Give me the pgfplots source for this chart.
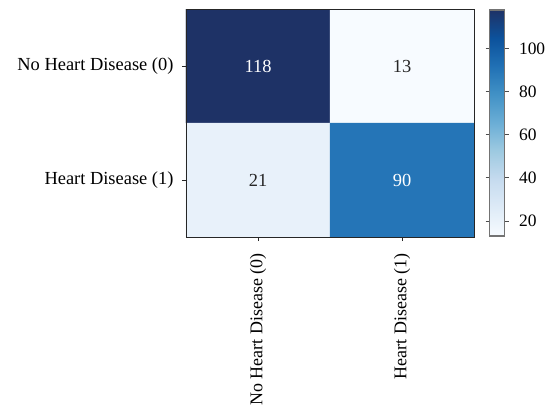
\documentclass[border=0pt]{standalone}
\usepackage{pgfplots}
\pgfplotsset{compat=1.18}
\usepackage{fontspec}
\setmainfont{Liberation Serif}

% Blues sequential colormap
\pgfplotsset{
  colormap={blues}{
    rgb255=(247,251,255) rgb255=(222,235,247) rgb255=(198,219,239)
    rgb255=(158,202,225) rgb255=(107,174,214) rgb255=(66,146,198)
    rgb255=(33,113,181) rgb255=(12,82,156) rgb255=(30,50,102)
  }
}

\pgfplotstableread{
x y C
0 0 118
1 0 13
0 1 21
1 1 90
}\cmdata

\begin{document}
\begin{tikzpicture}[x=1bp,y=1bp]
\useasboundingbox (-186,-170) rectangle (359,237);
\begin{axis}[
  at={(0,0)}, anchor=south west,
  scale only axis, width=288bp, height=228bp,
  xmin=-0.5, xmax=1.5, ymin=-0.5, ymax=1.5,
  y dir=reverse,
  axis on top,
  xtick={0,1}, ytick={0,1},
  xticklabels={No Heart Disease (0), Heart Disease (1)},
  yticklabels={No Heart Disease (0), Heart Disease (1)},
  x tick label style={rotate=90, anchor=east, font=\fontsize{18}{21}\selectfont},
  xticklabel shift=9bp, yticklabel shift=5bp,
  tick align=outside, xtick pos=bottom, ytick pos=left,
  major tick length=4bp,
  tick style={black!85, line width=0.8bp},
  axis line style={black!85, line width=0.9bp},
  font=\fontsize{18.5}{21}\selectfont,
  /pgf/number format/assume math mode=true,
  colormap name=blues,
  point meta min=13, point meta max=118,
  colorbar,
  colorbar style={
    at={(parent axis.north east)}, anchor=north west,
    xshift=7bp, yshift=-1bp, width=15bp, height=226bp,
    ytick={20,40,60,80,100},
    yticklabel pos=right,
    yticklabel shift=7bp,
    tick align=outside,
    major tick length=4bp,
    tick style={black!70, line width=0.8bp},
    axis line style={black!55, line width=1.4bp},
    font=\fontsize{17.5}{21}\selectfont,
    /pgf/number format/assume math mode=true,
  },
]
\addplot[matrix plot*, mesh/cols=2, point meta=explicit]
  table[x=x, y=y, meta=C] {\cmdata};

% cell counts, white on dark cells
\addplot[draw=none, mark=none, nodes near coords, point meta=explicit symbolic,
  every node near coord/.style={text=white, anchor=center,
    font=\fontsize{18.5}{21}\selectfont}]
  table[meta=C] {
x y C
0 0 118
1 1 90
};
% cell counts, dark on light cells
\addplot[draw=none, mark=none, nodes near coords, point meta=explicit symbolic,
  every node near coord/.style={text=black!85, anchor=center,
    font=\fontsize{18.5}{21}\selectfont}]
  table[meta=C] {
x y C
1 0 13
0 1 21
};
\end{axis}
\end{tikzpicture}
\end{document}
